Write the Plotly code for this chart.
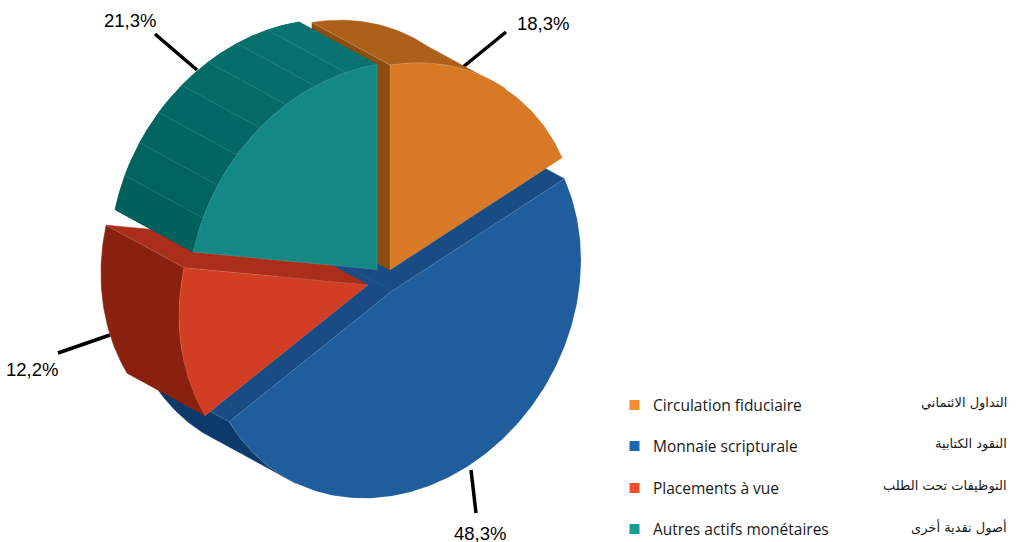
import math
import plotly.graph_objects as go

# ---------- data ----------
labels_fr = ["Circulation fiduciaire", "Monnaie scripturale", "Placements à vue", "Autres actifs monétaires"]
labels_ar = ["التداول الائتماني", "النقود الكتابية", "التوظيفات تحت الطلب", "أصول نقدية أخرى"]
shares = [18.3, 48.3, 12.2, 21.3]
share_labels = ["18,3%", "48,3%", "12,2%", "21,3%"]

# ---------- styles ----------
top_colors = ["#D77925", "#1F5D9C", "#D23E24", "#148885"]
radial_colors = ["#8B4E0E", "#194C84", "#AA2E1A", "#0A6F6C"]
arc_colors_start = ["#AC6019", "#0C3A6B", "#8A210E", "#00605C"]
arc_colors_end = ["#AC6019", "#0C3A6B", "#8A210E", "#087370"]
legend_colors = ["#F58A2E", "#1F66B0", "#F04E30", "#149C96"]
draw_order = [1, 0, 2, 3]
facet_seam_alpha = [0.0, 0.0, 0.0, 0.16]

# projection of the tilted pie (pixels)
APEX = [(390.0, 270.0), (392.0, 291.0), (368.0, 285.0), (377.0, 269.5)]
SX, SUX, SUY = 189.0, 31.0, 205.0
DEPTH = (-78.0, -42.5)
FACET_DEG = 9.6

label_pos = [(543, 23), (480, 533), (32, 369), (130, 20)]
leader_ends = [((463, 67), (506, 32)), ((471, 470), (476, 513)),
               ((110, 335), (58, 353)), ((197, 70), (155, 34))]
legend_x, legend_text_x, legend_ar_x = 634.5, 651, 1009
legend_y = [405, 446, 488, 529]


def project(theta_deg):
    t = math.radians(theta_deg)
    u, v = math.sin(t), math.cos(t)
    return SX * u, -(SUX * u + SUY * v)


def arc(c, a, b, step=1.0):
    n = max(2, int(abs(b - a) / step) + 1)
    out = []
    for i in range(n + 1):
        dx, dy = project(a + (b - a) * i / n)
        out.append((c[0] + dx, c[1] + dy))
    return out


def shift(pts):
    return [(x + DEPTH[0], y + DEPTH[1]) for x, y in pts]


def cross(o, a, b):
    return (a[0] - o[0]) * (b[1] - o[1]) - (a[1] - o[1]) * (b[0] - o[0])


def lerp_hex(c1, c2, f):
    a = [int(c1[i:i + 2], 16) for i in (1, 3, 5)]
    b = [int(c2[i:i + 2], 16) for i in (1, 3, 5)]
    return "#%02X%02X%02X" % tuple(round(p + (q - p) * f) for p, q in zip(a, b))


def poly(fig, pts, color, edge=None, width=0.6):
    xs = [p[0] for p in pts] + [pts[0][0]]
    ys = [p[1] for p in pts] + [pts[0][1]]
    fig.add_trace(go.Scatter(x=xs, y=ys, mode="lines", fill="toself", fillcolor=color,
                             line=dict(color=edge or color, width=width), hoverinfo="skip", showlegend=False))


def seam(fig, a, b, color):
    fig.add_trace(go.Scatter(x=[a[0], b[0]], y=[a[1], b[1]], mode="lines",
                             line=dict(color=color, width=0.7), hoverinfo="skip", showlegend=False))


fig = go.Figure()

# leader lines under the pie
for (a, b) in leader_ends:
    fig.add_trace(go.Scatter(x=[a[0], b[0]], y=[a[1], b[1]], mode="lines",
                             line=dict(color="black", width=3.5), hoverinfo="skip", showlegend=False))

total = sum(shares)
starts = []
acc = 0.0
for s in shares:
    starts.append(acc)
    acc += s / total * 360.0

for i in draw_order:
    a0 = starts[i]
    a1 = a0 + shares[i] / total * 360.0
    mid = (a0 + a1) / 2
    mx, my = project(mid)
    c = APEX[i]
    rim_mid = (c[0] + mx, c[1] + my)
    back = (c[0] + DEPTH[0], c[1] + DEPTH[1])

    # radial walls, only when they face the viewer
    for ang in (a0, a1):
        r = arc(c, ang, ang)[0]
        if cross(c, r, rim_mid) * cross(c, r, back) < 0:
            far = (r[0] + DEPTH[0], r[1] + DEPTH[1])
            poly(fig, [c, r, far, back], radial_colors[i])

    # outer wall, one facet at a time
    n = max(1, round((a1 - a0) / FACET_DEG))
    vis = []
    for k in range(n):
        f0 = a0 + (a1 - a0) * k / n
        f1 = a0 + (a1 - a0) * (k + 1) / n
        pts = arc(c, f0, f1)
        if cross(pts[0], pts[-1], c) * cross(pts[0], pts[-1], (pts[0][0] + DEPTH[0], pts[0][1] + DEPTH[1])) < 0:
            vis.append(pts)
    if arc_colors_start[i] == arc_colors_end[i]:
        # uniform wall: one polygon per visible run of facets, so no seams show
        merged = [p for pts in vis for p in pts]
        if merged:
            poly(fig, merged + shift(merged)[::-1], arc_colors_start[i])
    else:
        for k, pts in enumerate(vis):
            col = lerp_hex(arc_colors_start[i], arc_colors_end[i], k / max(1, len(vis) - 1))
            poly(fig, pts + shift(pts)[::-1], col, width=1.0)
    if facet_seam_alpha[i] > 0:
        for pts in vis[:-1]:
            seam(fig, pts[-1], shift(pts)[-1], f"rgba(255,255,255,{facet_seam_alpha[i]})")

    # light edge where a radial wall meets the outer wall
    for ang in (a0, a1):
        r = arc(c, ang, ang)[0]
        if cross(c, r, rim_mid) * cross(c, r, back) < 0:
            seam(fig, r, (r[0] + DEPTH[0], r[1] + DEPTH[1]), "rgba(255,255,255,0.3)")

    # top face
    poly(fig, [c] + arc(c, a0, a1), top_colors[i], edge="rgba(255,255,255,0.22)")

# legend swatches
fig.add_trace(go.Scatter(x=[legend_x] * len(labels_fr), y=legend_y, mode="markers",
                         marker=dict(symbol="square", size=10, color=legend_colors, line=dict(width=0)),
                         hoverinfo="skip", showlegend=False))

ann = []
for t, (x, y) in zip(share_labels, label_pos):
    ann.append(dict(x=x, y=y, text=t, showarrow=False, xanchor="center", yanchor="middle",
                    font=dict(family="Liberation Sans", size=18.5, color="black")))
for fr, ar, y in zip(labels_fr, labels_ar, legend_y):
    ann.append(dict(x=legend_text_x, y=y, text=fr, showarrow=False, xanchor="left", yanchor="middle",
                    font=dict(family="Open Sans", size=15.5, color="#1a1a1a")))
    ann.append(dict(x=legend_ar_x, y=y - 2, text=ar, showarrow=False, xanchor="right", yanchor="middle",
                    font=dict(family="DejaVu Sans", size=13, color="#1a1a1a")))

fig.update_layout(
    width=1017, height=542, margin=dict(l=0, r=0, t=0, b=0),
    paper_bgcolor="white", plot_bgcolor="white", showlegend=False,
    xaxis=dict(range=[0, 1017], visible=False, fixedrange=True),
    yaxis=dict(range=[542, 0], visible=False, fixedrange=True),
    annotations=ann,
)
fig.write_html("out.html", post_script="document.body.style.margin='0';",
               config={"displayModeBar": False})
